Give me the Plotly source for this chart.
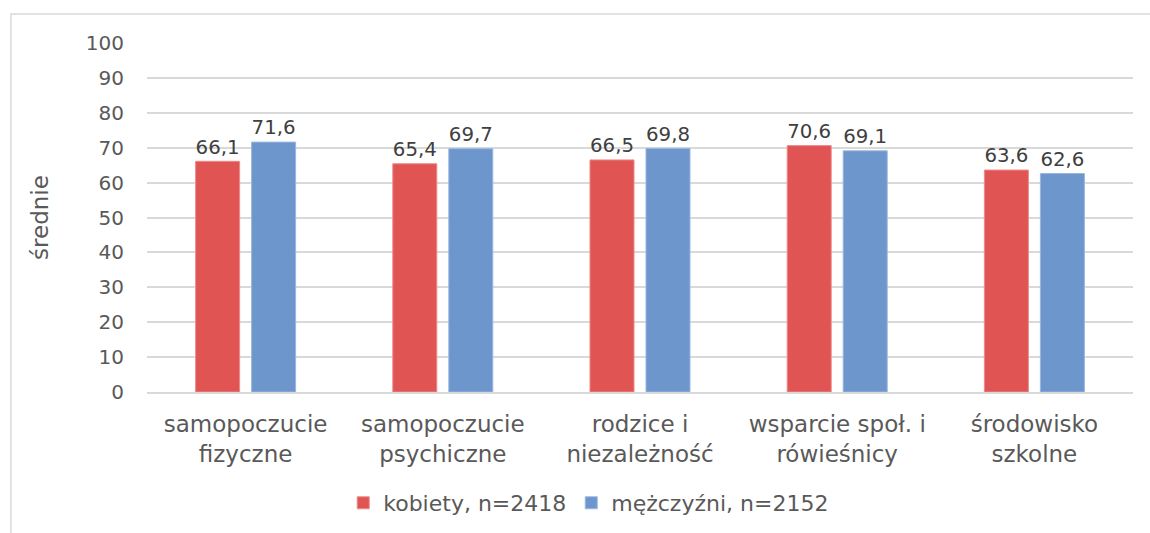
import plotly.graph_objects as go

categories = [
    "samopoczucie<br>fizyczne",
    "samopoczucie<br>psychiczne",
    "rodzice i<br>niezależność",
    "wsparcie społ. i<br>rówieśnicy",
    "środowisko<br>szkolne",
]
kobiety = [66.1, 65.4, 66.5, 70.6, 63.6]
mezczyzni = [71.6, 69.7, 69.8, 69.1, 62.6]
y_ticks = [0, 10, 20, 30, 40, 50, 60, 70, 80, 90, 100]

FONT = "DejaVu Sans, sans-serif"
TEXT = "#595959"
RED = "#E05554"
BLUE = "#6D96CD"

fig = go.Figure()
fig.add_trace(go.Bar(
    name="kobiety, n=2418", x=categories, y=kobiety,
    marker=dict(color=RED, line=dict(color="#EE8A89", width=1)),
    texttemplate="%{y:.1f}", textposition="outside",
    textfont=dict(size=21, color="#404040", family=FONT),
    cliponaxis=False,
))
fig.add_trace(go.Bar(
    name="mężczyźni, n=2152", x=categories, y=mezczyzni,
    marker=dict(color=BLUE, line=dict(color="#9AB7E0", width=1)),
    texttemplate="%{y:.1f}", textposition="outside",
    textfont=dict(size=21, color="#404040", family=FONT),
    cliponaxis=False,
))

fig.update_layout(
    width=1150, height=533,
    margin=dict(l=147, r=17, t=43, b=141, autoexpand=False),
    paper_bgcolor="white", plot_bgcolor="white",
    separators=", ",
    barmode="group", bargap=0.432, bargroupgap=0.214,
    font=dict(family=FONT, size=20, color=TEXT),
    showlegend=True,
    legend=dict(
        orientation="h", x=0.448, xanchor="center", y=-0.318, yanchor="middle",
        font=dict(size=22, color=TEXT, family=FONT),
        itemwidth=30, traceorder="normal",
    ),
    xaxis=dict(
        showgrid=False, showline=True, linecolor="#d9d9d9", linewidth=2,
        ticks="", ticklabelstandoff=10, automargin=False,
        tickfont=dict(size=23, color=TEXT, family=FONT),
    ),
    yaxis=dict(
        range=[0, 100], tickvals=y_ticks, showgrid=True,
        gridcolor="#d9d9d9", gridwidth=1.5, zeroline=False,
        ticks="", ticklabelstandoff=22, automargin=False,
        tickfont=dict(size=20, color=TEXT, family=FONT),
        title=dict(text="średnie", font=dict(size=23, color=TEXT, family=FONT), standoff=30),
    ),
    shapes=[dict(
        type="rect", xref="paper", yref="paper",
        x0=-0.138, x1=1.06, y0=-0.6, y1=1.083,
        line=dict(color="#d9d9d9", width=1.5), fillcolor="rgba(0,0,0,0)",
        layer="below",
    )],
)

fig.write_html("out.html")
